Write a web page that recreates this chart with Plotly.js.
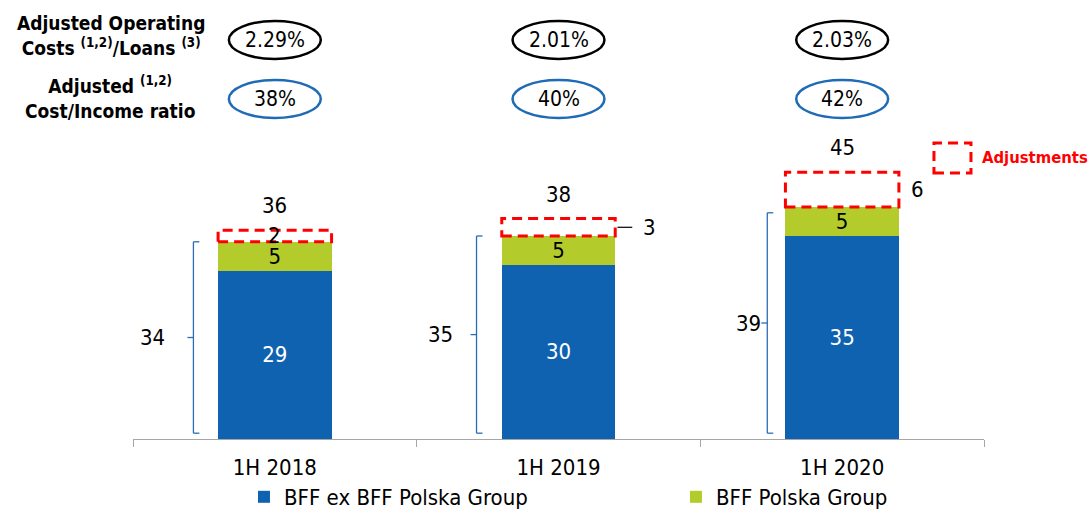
<!DOCTYPE html>
<html>
<head>
<meta charset="utf-8">
<script src="https://cdn.plot.ly/plotly-3.0.1.min.js"></script>
<style>html,body{margin:0;padding:0;background:#fff;}#chart{width:1091px;height:509px;}</style>
</head>
<body>
<div id="chart"></div>
<script>
// ---- data ----
const categories = ['1H 2018', '1H 2019', '1H 2020'];
const bffEx = [29, 30, 35];
const bffPolska = [5, 5, 5];
const adjustments = [2, 3, 6];
const totals = [36, 38, 45];
const subtotals = [34, 35, 39];
const opCostLoans = ['2.29%', '2.01%', '2.03%'];
const costIncome = ['38%', '40%', '42%'];
const seriesNames = ['BFF ex BFF Polska Group', 'BFF Polska Group'];

// ---- style ----
const BLUE = '#0f62b0';
const GREEN = '#b3cb2b';
const RED = '#ff0000';
const BR_BLUE = '#2a6db5';
const FONT = '"Liberation Sans Narrow", "DejaVu Sans Condensed", Arial, sans-serif';
const HFONT = '"DejaVu Sans Condensed", "DejaVu Sans", sans-serif';
const barWidth = 0.4;
const bracketDx = [-0.287, -0.289, -0.264];
const bracketLabelDx = [-0.43, -0.415, -0.33];
const adjLabelMode = ['inside', 'leader', 'right'];

const traces = [
  {type: 'bar', x: categories, y: bffEx, name: seriesNames[0], width: barWidth, legend: 'legend',
   marker: {color: BLUE}, text: bffEx.map(String), textposition: 'inside', insidetextanchor: 'middle',
   textangle: 0, constraintext: 'none',
   textfont: {color: '#ffffff', size: 22, family: FONT}, hoverinfo: 'none'},
  {type: 'bar', x: categories, y: bffPolska, name: seriesNames[1], width: barWidth, legend: 'legend2',
   marker: {color: GREEN}, text: bffPolska.map(String), textposition: 'inside', insidetextanchor: 'middle',
   textangle: 0, constraintext: 'none',
   textfont: {color: '#000000', size: 22, family: FONT}, hoverinfo: 'none'}
];

const shapes = [];
const annotations = [];

categories.forEach((c, i) => {
  const base = bffEx[i] + bffPolska[i];
  const top = base + adjustments[i];
  // dashed adjustment box
  shapes.push({type: 'rect', xref: 'x', yref: 'y', x0: i - barWidth / 2, x1: i + barWidth / 2,
    y0: base, y1: top, line: {color: RED, width: 3, dash: '10px,6px'}, fillcolor: 'rgba(0,0,0,0)'});
  // adjustment label
  const mid = (base + top) / 2;
  if (adjLabelMode[i] === 'inside') {
    annotations.push({x: i, y: mid, xref: 'x', yref: 'y', text: String(adjustments[i]), showarrow: false,
      yanchor: 'middle', font: {size: 22, family: FONT, color: '#000'}});
  } else {
    if (adjLabelMode[i] === 'leader') {
      shapes.push({type: 'line', xref: 'x', yref: 'y', x0: i + barWidth / 2 + 0.008, x1: i + barWidth / 2 + 0.06,
        y0: mid, y1: mid, line: {color: '#000', width: 1.2}});
    }
    annotations.push({x: i + barWidth / 2 + (adjLabelMode[i] === 'leader' ? 0.09 : 0.035), y: mid, xref: 'x', yref: 'y',
      text: String(adjustments[i]), showarrow: false, xanchor: 'left', yanchor: 'middle',
      font: {size: 22, family: FONT, color: '#000'}});
  }
  // total label
  annotations.push({x: i, y: top, xref: 'x', yref: 'y', text: String(totals[i]), showarrow: false,
    yanchor: 'bottom', yshift: 10, font: {size: 22, family: FONT, color: '#000'}});
  // bracket
  const bx = i + bracketDx[i];
  const s = 0.021;
  const bBot = 1;
  const bTop = subtotals[i];
  const bMid = (bTop + bBot) / 2;
  const bl = {color: BR_BLUE, width: 1.3};
  shapes.push({type: 'line', xref: 'x', yref: 'y', x0: bx, x1: bx, y0: bBot, y1: bTop, line: bl});
  shapes.push({type: 'line', xref: 'x', yref: 'y', x0: bx, x1: bx + s, y0: bTop, y1: bTop, line: bl});
  shapes.push({type: 'line', xref: 'x', yref: 'y', x0: bx, x1: bx + s, y0: bBot, y1: bBot, line: bl});
  shapes.push({type: 'line', xref: 'x', yref: 'y', x0: bx, x1: bx - s, y0: bMid, y1: bMid, line: bl});
  annotations.push({x: i + bracketLabelDx[i], y: bMid, xref: 'x', yref: 'y', text: String(subtotals[i]),
    showarrow: false, yanchor: 'middle', font: {size: 22, family: FONT, color: '#000'}});
  // ratio ellipses
  shapes.push({type: 'circle', xref: 'x', yref: 'paper', x0: i - 0.162, x1: i + 0.162, y0: 1.271, y1: 1.398,
    line: {color: '#000', width: 2.5}});
  annotations.push({x: i, y: 1.3344, xref: 'x', yref: 'paper', text: opCostLoans[i], showarrow: false,
    xanchor: 'center', yanchor: 'middle', font: {size: 21, family: FONT, color: '#000'}});
  shapes.push({type: 'circle', xref: 'x', yref: 'paper', x0: i - 0.162, x1: i + 0.162, y0: 1.0736, y1: 1.2007,
    line: {color: '#1f6bb5', width: 2.5}});
  annotations.push({x: i, y: 1.1371, xref: 'x', yref: 'paper', text: costIncome[i], showarrow: false,
    xanchor: 'center', yanchor: 'middle', font: {size: 21, family: FONT, color: '#000'}});
});

// row headers
annotations.push({x: -0.0259, y: 1.351, xref: 'paper', yref: 'paper', xanchor: 'center', yanchor: 'middle', showarrow: false,
  text: '<b>Adjusted Operating<br>Costs <sup>(1,2)</sup>/Loans <sup>(3)</sup></b>', align: 'center',
  font: {size: 19, family: HFONT, color: '#000'}});
annotations.push({x: -0.0259, y: 1.1405, xref: 'paper', yref: 'paper', xanchor: 'center', yanchor: 'middle', showarrow: false,
  text: '<b>Adjusted <sup>(1,2)</sup><br>Cost/Income ratio</b>', align: 'center',
  font: {size: 19, family: HFONT, color: '#000'}});

// adjustments key
shapes.push({type: 'rect', xref: 'paper', yref: 'paper', x0: 0.9412, x1: 0.9847, y0: 0.8896, y1: 0.99,
  line: {color: RED, width: 3, dash: '10px,6px'}});
annotations.push({x: 0.9953, y: 0.9431, xref: 'paper', yref: 'paper', xanchor: 'left', yanchor: 'middle', showarrow: false,
  text: '<b>Adjustments</b>', font: {size: 16.5, family: HFONT, color: RED}});

const legendBase = {orientation: 'h', xanchor: 'left', y: -0.194, yanchor: 'middle', itemwidth: 30,
  font: {size: 22, family: FONT, color: '#000'}, bgcolor: 'rgba(0,0,0,0)'};

const layout = {
  width: 1091, height: 509,
  margin: {l: 133, r: 107, t: 140, b: 70, autoexpand: false},
  paper_bgcolor: '#fff', plot_bgcolor: '#fff',
  barmode: 'stack', bargap: 0.6,
  showlegend: true,
  legend: Object.assign({}, legendBase, {x: 0.1304}),
  legend2: Object.assign({}, legendBase, {x: 0.638}),
  xaxis: {type: 'category', showline: true, linecolor: '#a6a6a6', linewidth: 1.3, ticks: 'outside', tickson: 'boundaries',
    ticklen: 7, tickcolor: '#a6a6a6', showgrid: false, zeroline: false, ticklabelstandoff: 8,
    tickfont: {size: 22, family: FONT, color: '#000'}, fixedrange: true},
  yaxis: {range: [0, 51.55], visible: false, showgrid: false, zeroline: false, fixedrange: true},
  shapes: shapes,
  annotations: annotations
};

Plotly.newPlot('chart', traces, layout, {displayModeBar: false, staticPlot: true});
</script>
</body>
</html>
